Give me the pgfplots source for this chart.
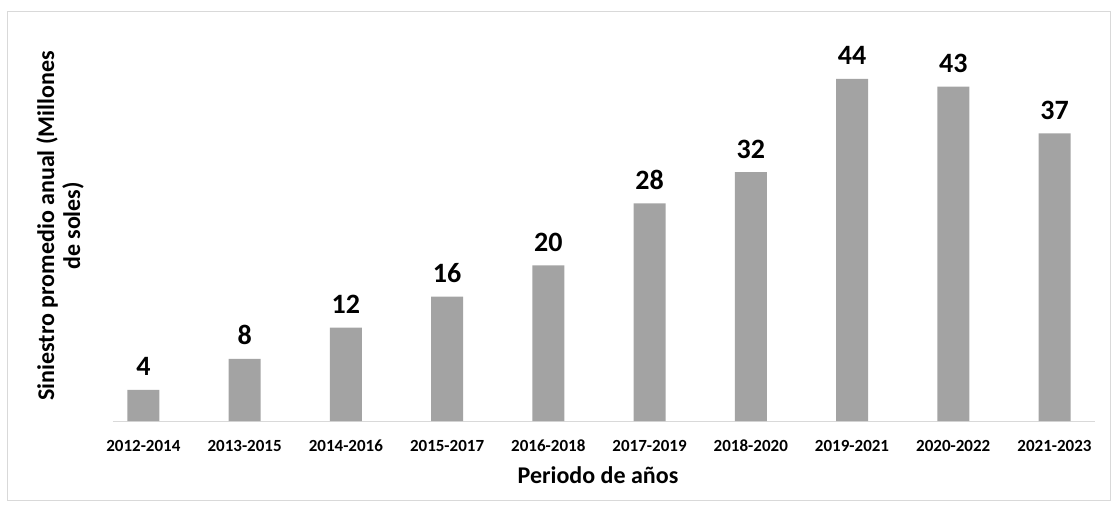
\documentclass[border=0pt]{standalone}
\usepackage{fontspec}
\setmainfont{Carlito}
\usepackage{pgfplots}
\pgfplotsset{compat=1.18}
\definecolor{barfill}{HTML}{A3A3A3}
\definecolor{framegray}{HTML}{D9D9D9}
\begin{document}
\begin{tikzpicture}
\path[use as bounding box] (-113pt,-83pt) rectangle (999pt,421pt);
\draw[framegray, line width=1pt] (-105pt,-79pt) rectangle (997pt,409pt);
\begin{axis}[
    scale only axis,
    width=982pt, height=381pt,
    xmin=-0.3, xmax=9.4,
    ymin=0, ymax=49,
    axis x line=bottom,
    axis y line=left,
    x axis line style={-, framegray, line width=1pt},
    y axis line style={draw=none},
    ytick=\empty,
    xtick={0,...,9},
    xticklabels={2012-2014,2013-2015,2014-2016,2015-2017,2016-2018,2017-2019,2018-2020,2019-2021,2020-2022,2021-2023},
    major tick length=0pt,
    xticklabel style={font=\fontsize{17}{17}\selectfont\bfseries, anchor=base, yshift=-30pt},
    xlabel={Periodo de años},
    xlabel style={font=\fontsize{24}{24}\selectfont\bfseries, at={(axis description cs:0.4939,0)}, anchor=base, yshift=-62pt},
    ylabel={Siniestro promedio anual (Millones\\de soles)},
    ylabel style={font=\fontsize{24}{26}\selectfont\bfseries, align=center, at={(axis description cs:-0.054,0.512)}, anchor=center},
    ybar, bar width=32pt,
    nodes near coords,
    every node near coord/.append style={font=\fontsize{28}{28}\selectfont\bfseries, anchor=base, yshift=14pt, black,
        /pgf/number format/assume math mode=true},
]
\addplot[fill=barfill, draw=none] coordinates {
    (0,4) (1,8) (2,12) (3,16) (4,20)
    (5,28) (6,32) (7,44) (8,43) (9,37)
};
\end{axis}
\end{tikzpicture}
\end{document}
